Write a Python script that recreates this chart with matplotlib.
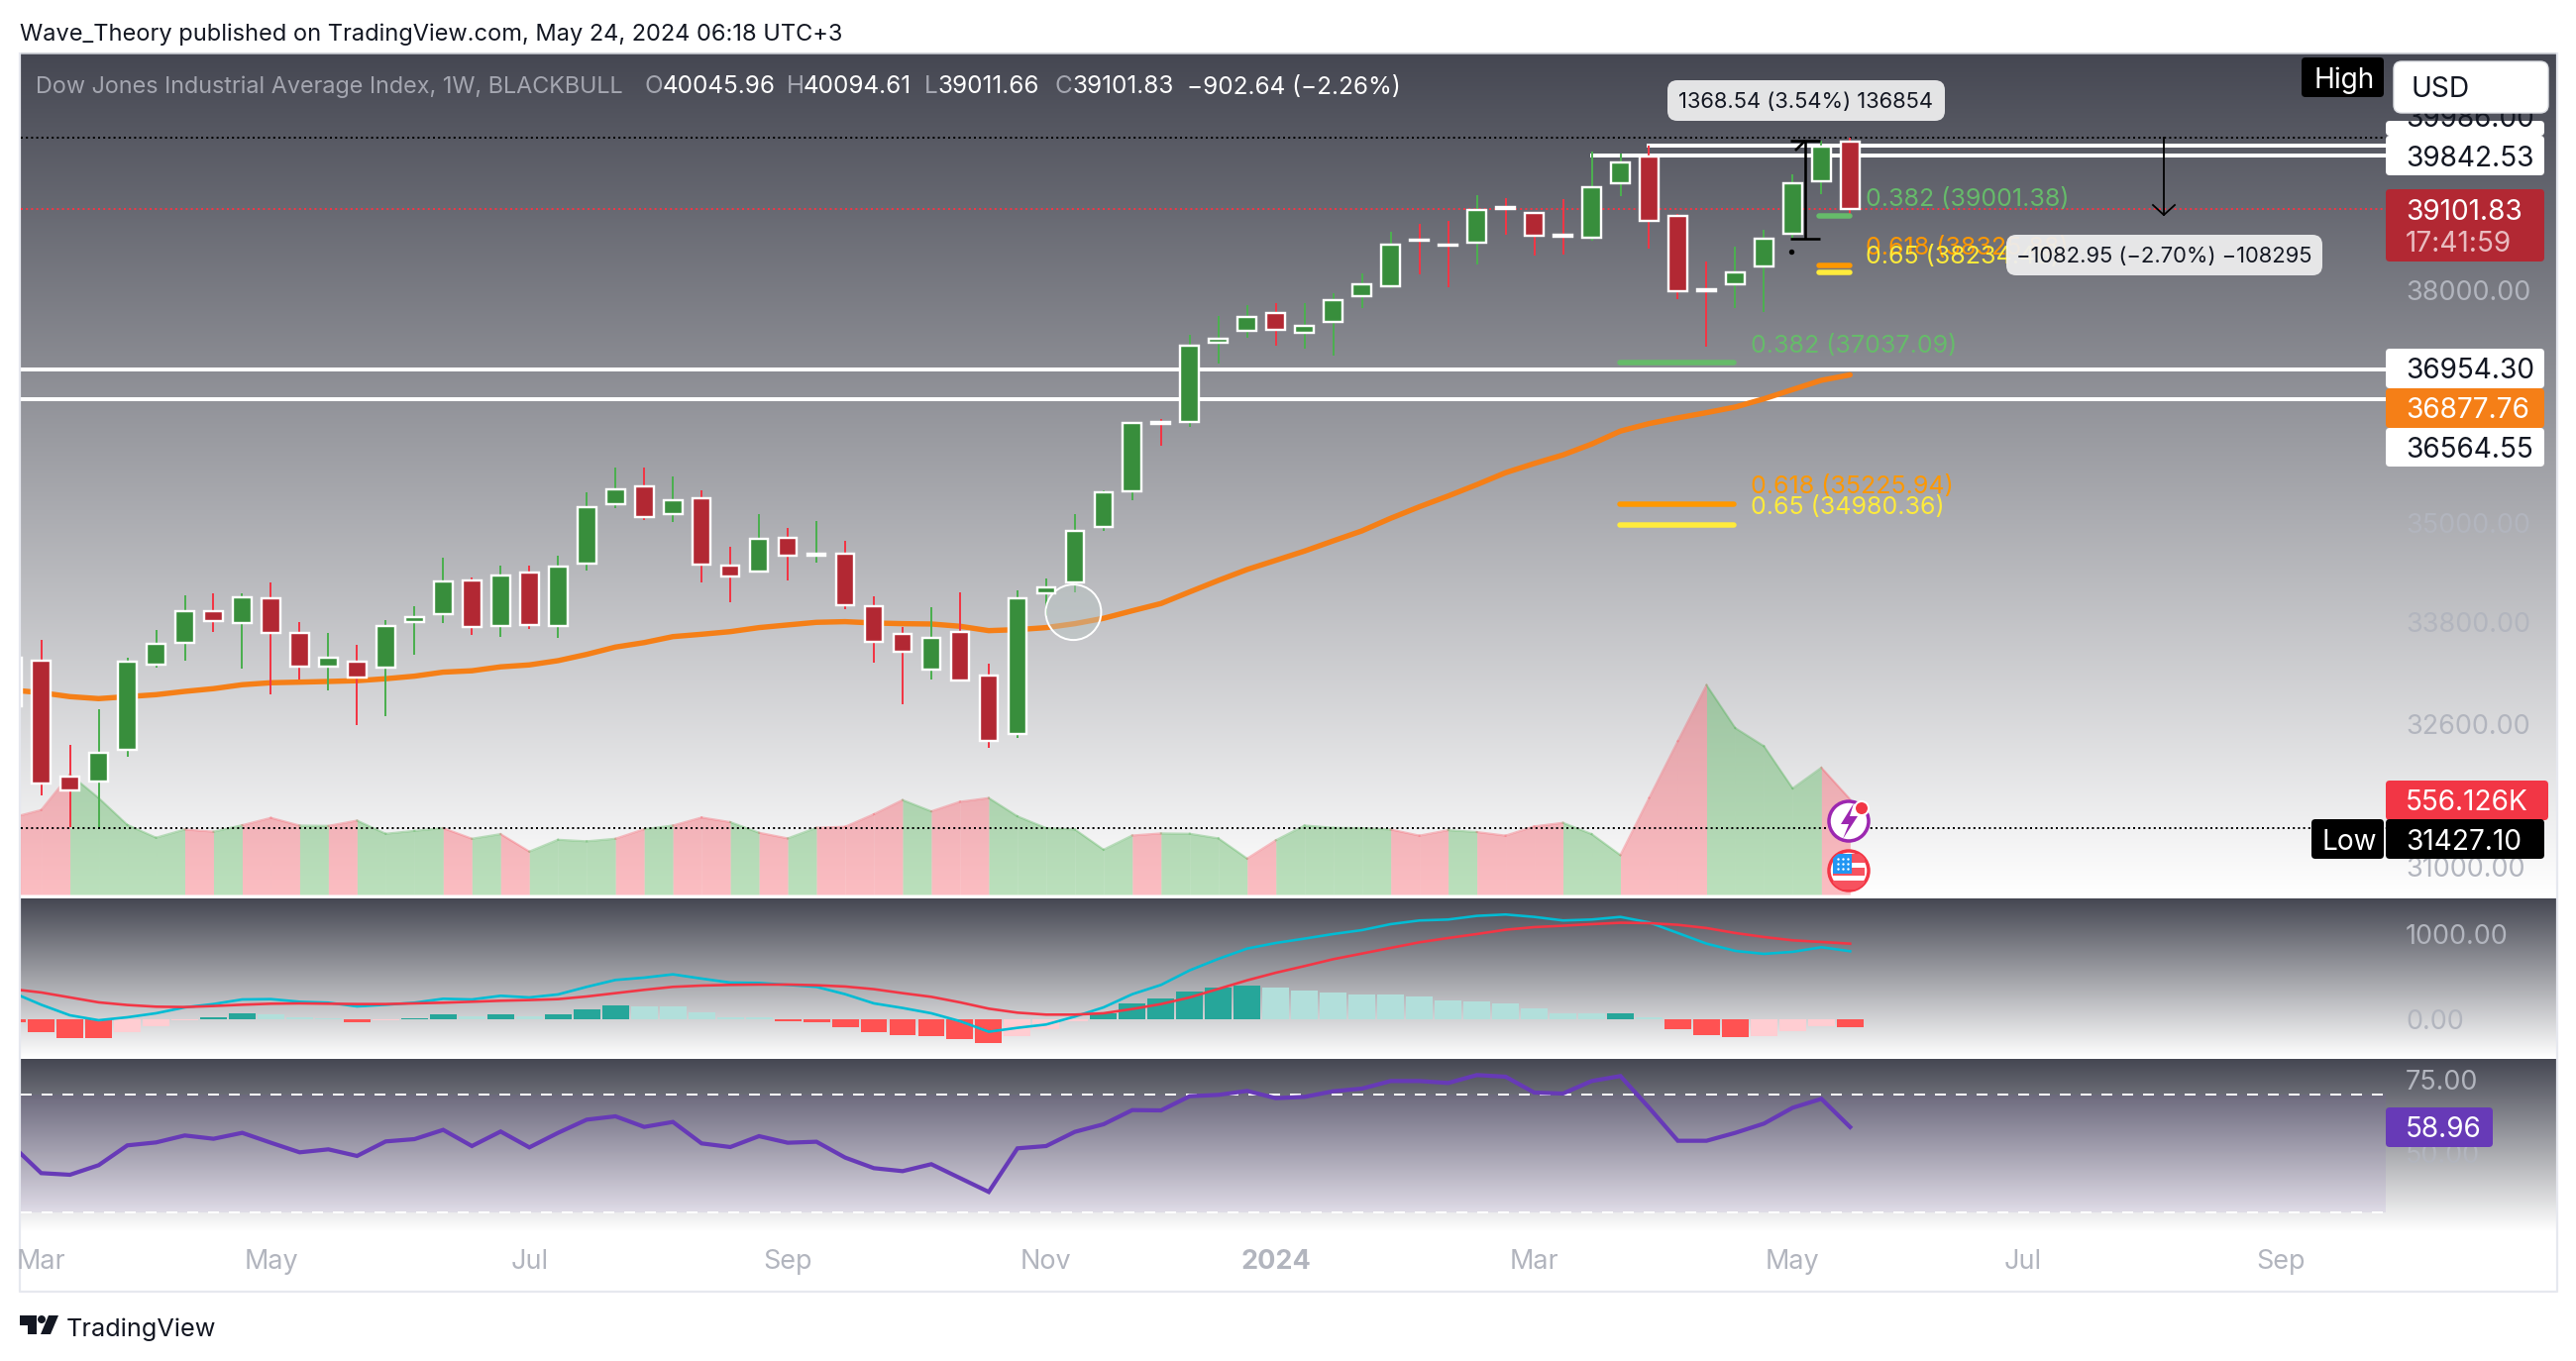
import numpy as np
import matplotlib
matplotlib.use('Agg')
import matplotlib.pyplot as plt
import matplotlib.patches as patches
from matplotlib.ticker import NullLocator

W, H = 2600, 1374
DPI = 100

plt.rcParams['font.family'] = ['Inter', 'DejaVu Sans']

# weekly bars, first one is only half visible at the left edge
bar_open = [32808, 33343, 32006, 31947, 32310, 33293, 33545, 33931, 33785, 34084, 33671, 33270, 33331,
            33255, 33793, 33888, 34300, 33746, 34396, 33746, 34501, 35229, 35459, 35110, 35310, 34481,
            34405, 34819, 34594, 34625, 33990, 33659, 33231, 33679, 33169, 32488, 34140, 34272, 34947,
            35389, 36275, 36267, 37301, 37452, 37689, 37434, 37571, 37912, 38046, 38685, 38617, 38636,
            39125, 39052, 38745, 38704, 39455, 39837, 39003, 38005, 38073, 38318, 38758, 39483, 40045.96]
bar_high = [33480, 33584, 32363, 32773, 33374, 33702, 34116, 34142, 34142, 34272, 33797, 33667, 33525,
            33821, 33986, 34573, 34333, 34477, 34477, 34598, 35380, 35692, 35692, 35580, 35406, 34706,
            35110, 34938, 35024, 34779, 34104, 33738, 33974, 34152, 33305, 34176, 34321, 35110, 35400,
            36270, 36305, 37404, 37649, 37798, 37824, 37824, 37957, 38224, 38790, 38898, 38939, 39294,
            39252, 39065, 39242, 39898, 39879, 39986, 39034, 38381, 38586, 38817, 39584, 40057, 40094.61]
bar_low = [32700, 31793, 31437, 31430, 32228, 33258, 33343, 33682, 33250, 32948, 33119, 32994, 32594,
           32697, 33413, 33789, 33643, 33623, 33718, 33602, 34421, 35187, 35040, 35016, 34276, 34037,
           34393, 34300, 34517, 33951, 33316, 32834, 33122, 33090, 32332, 32442, 33868, 34152, 34905,
           35285, 35966, 36207, 37031, 37360, 37259, 37220, 37130, 37758, 38023, 38207, 38037, 38340,
           38745, 38469, 38474, 38671, 39280, 38563, 37877, 37246, 37762, 37706, 38689, 39307, 39011.66]
bar_close = [33378, 31921, 31846, 32276, 33331, 33541, 33931, 33805, 34096, 33670, 33270, 33378, 33139,
             33753, 33860, 34288, 33738, 34360, 33765, 34469, 35200, 35421, 35073, 35285, 34489, 34341,
             34807, 34598, 34618, 33998, 33561, 33441, 33602, 33104, 32408, 34084, 34216, 34905, 35384,
             36254, 36250, 37263, 37347, 37644, 37465, 37526, 37860, 38081, 38617, 38660, 38595, 39085,
             39105, 38739, 38718, 39408, 39754, 38935, 37979, 37985, 38242, 38689, 39464, 39968, 39101.83]

volume_k = [450, 494, 702, 564, 407, 332, 380, 367, 405, 448, 403, 401, 432, 355, 372, 388, 326, 353, 251,
            320, 311, 326, 382, 403, 450, 423, 361, 328, 390, 396, 469, 552, 486, 542, 564, 457, 388, 380,
            262, 345, 357, 355, 328, 210, 317, 403, 390, 388, 380, 344, 376, 365, 344, 398, 419, 353, 230,
            564, 896, 1224, 973, 867, 620, 741, 556.126]

ma_line = [32994, 32964, 32918, 32895, 32918, 32941, 32979, 33011, 33057, 33080, 33087, 33095, 33104, 33127,
           33157, 33204, 33220, 33266, 33289, 33339, 33413, 33499, 33552, 33623, 33651, 33682, 33730, 33762,
           33793, 33801, 33785, 33777, 33773, 33746, 33694, 33706, 33730, 33777, 33841, 33931, 34018, 34158,
           34297, 34429, 34541, 34654, 34779, 34902, 35057, 35200, 35334, 35476, 35626, 35742, 35850, 35988,
           36153, 36249, 36322, 36389, 36461, 36567, 36687, 36807, 36877.76]

macd_hist = [-31, -147, -217, -217, -147, -78, -12, 23, 70, 58, 23, 19, -35, -12, 12, 58, 43, 58, 43, 58,
             116, 163, 151, 151, 81, 23, 23, -23, -35, -93, -151, -186, -198, -233, -279, -198, -116, -23,
             70, 186, 244, 326, 372, 395, 372, 337, 314, 291, 291, 267, 221, 209, 186, 128, 70, 70, 75, 23,
             -116, -186, -209, -198, -140, -74, -93]
macd_line = [318, 174, 50, -8, 27, 74, 143, 182, 236, 240, 209, 198, 155, 174, 198, 244, 236, 279, 260, 295,
             384, 465, 492, 531, 481, 434, 430, 407, 384, 298, 190, 136, 74, -19, -143, -97, -58, 35, 143,
             298, 407, 578, 713, 833, 899, 950, 1004, 1050, 1120, 1163, 1174, 1217, 1233, 1205, 1163, 1174,
             1205, 1140, 1016, 891, 806, 771, 795, 849, 802]
macd_signal = [357, 318, 260, 202, 171, 151, 147, 159, 174, 186, 190, 186, 182, 182, 190, 198, 209, 221, 229,
               240, 271, 310, 349, 384, 399, 407, 411, 411, 403, 388, 357, 310, 267, 202, 128, 81, 58, 58,
               74, 124, 182, 260, 360, 461, 550, 628, 709, 775, 841, 907, 957, 1004, 1054, 1085, 1101, 1120,
               1136, 1132, 1112, 1074, 1016, 969, 930, 911, 891]

rsi_line = [52.63, 43.33, 42.77, 46.02, 52.75, 53.75, 56.11, 54.99, 57.0, 53.64, 50.39, 51.4, 49.16, 54.09,
            54.87, 58.01, 52.52, 57.45, 52.07, 57.0, 61.48, 62.61, 59.02, 60.7, 53.42, 52.18, 55.88, 53.64,
            53.98, 48.6, 45.01, 44.0, 46.36, 41.65, 36.95, 51.74, 52.52, 57.34, 59.92, 64.73, 64.62, 69.44,
            69.89, 71.23, 68.77, 69.22, 71.12, 72.02, 74.59, 74.59, 73.92, 76.61, 76.05, 70.67, 70.34, 74.59,
            76.27, 65.52, 54.31, 54.31, 57.0, 60.14, 65.52, 68.54, 58.96]

# horizontal levels and fib drawings
support_levels = [36954.30, 36564.55]
resist_levels = [39842.53, 39986]
range_high = 40099
range_low = 31427.10
fib_short = [(39001.38, '0.382 (39001.38)', '#66bb6a'), (38325.88, '0.618 (38325.88)', '#ff9800'),
             (38234.46, '0.65 (38234.46)', '#ffeb3b')]
fib_long = [(37037.09, '0.382 (37037.09)', '#66bb6a'), (35225.94, '0.618 (35225.94)', '#ff9800'),
            (34980.36, '0.65 (34980.36)', '#ffeb3b')]

price_ticks = [38000, 35000, 33800, 32600, 31000]
macd_ticks = [1000, 0]
rsi_ticks = [75, 50]
time_pos = [0, 8, 17, 26, 35, 43, 52, 61, 69, 78]
time_labels = ['Mar', 'May', 'Jul', 'Sep', 'Nov', '2024', 'Mar', 'May', 'Jul', 'Sep']

bar_idx = np.arange(-1, 64)

# pixel layout
PLOT_L, PLOT_R, PANE_R = 20.5, 2408, 2580
BAR_X0, BAR_STEP = 41.6, 28.98
XLIM = ((PLOT_L - BAR_X0) / BAR_STEP, (PLOT_R - BAR_X0) / BAR_STEP)
AXIS_GREY = '#b2b5be'
INK = '#131722'


def fs(px):
    return px * 72 / DPI


def pane_axes(fig, top, bottom, zorder=2):
    ax = fig.add_axes([PLOT_L / W, 1 - bottom / H, (PLOT_R - PLOT_L) / W, (bottom - top) / H])
    ax.set_xlim(*XLIM)
    ax.patch.set_visible(False)
    ax.set_zorder(zorder)
    for s in ax.spines.values():
        s.set_visible(False)
    ax.yaxis.tick_right()
    ax.tick_params(axis='both', length=0, labelsize=fs(27), labelcolor=AXIS_GREY)
    ax.tick_params(axis='y', pad=fs(20))
    ax.set_xticks([])
    return ax


def gradient(ax, top, bottom):
    t = np.linspace(0, 1, 400)[:, None, None]
    c0 = np.array([69, 71, 82]) / 255
    img = c0 + (1 - c0) * t
    ax.imshow(img, extent=(PLOT_L, PANE_R, bottom, top), aspect='auto', zorder=0, interpolation='bilinear')


def label_box(ax, x, y0, y1, text, fc, tc='white', x1=2568, tx=2428, size=28, z=6):
    ax.add_patch(patches.FancyBboxPatch((x, y0), x1 - x, y1 - y0, boxstyle='round,pad=0,rounding_size=4',
                                        fc=fc, ec='none', zorder=z))
    if text:
        ax.text(tx, (y0 + y1) / 2, text, color=tc, fontsize=fs(size), va='center_baseline', ha='left', zorder=z + 1)


def callout(ax, x0, x1, y0, y1, text):
    ax.add_patch(patches.FancyBboxPatch((x0, y0), x1 - x0, y1 - y0, boxstyle='round,pad=0,rounding_size=10',
                                        fc='#eeeeef', ec='none', alpha=0.94, zorder=4))
    ax.text((x0 + x1) / 2, (y0 + y1) / 2, text, color=INK, fontsize=fs(22), ha='center',
            va='center_baseline', zorder=5)


fig = plt.figure(figsize=(W / DPI, H / DPI), dpi=DPI, facecolor='white')

# background layer with the pane gradients and the frame
bg = fig.add_axes([0, 0, 1, 1], zorder=0)
gradient(bg, 54, 903)
gradient(bg, 907, 1068)
gradient(bg, 1069, 1243)
bg.set_xlim(0, W)
bg.set_ylim(H, 0)
bg.axis('off')
bg.plot([PLOT_L, PANE_R], [53.5, 53.5], color='#c9ccd3', lw=1.2)
bg.plot([PLOT_L - 0.5, PLOT_L - 0.5, PANE_R + 1, PANE_R + 1], [54, 1304, 1304, 54], color='#e6e8ef', lw=1.6)

# main pane, log price scale fitted to the axis labels
Y_TOP = 38000 * np.exp((292.7 - 54) / 2860)
Y_BOT = 38000 * np.exp((292.7 - 903) / 2860)

ax_vol = pane_axes(fig, 54, 903, zorder=1)
ax_vol.set_ylim(0, 849 * 5.79)
ax_vol.set_yticks([])
for i in range(1, len(bar_idx)):
    up = bar_close[i] >= bar_open[i]
    col = '#4caf50' if up else '#f7525f'
    ax_vol.fill_between(bar_idx[i - 1:i + 1], 0, volume_k[i - 1:i + 1], color=col, alpha=0.38, lw=0)
    ax_vol.plot(bar_idx[i - 1:i + 1], volume_k[i - 1:i + 1], color=col, alpha=0.35, lw=1.5)

ax = pane_axes(fig, 54, 903)
ax.set_yscale('log')
ax.set_ylim(Y_BOT, Y_TOP)
ax.yaxis.set_minor_locator(NullLocator())
ax.set_yticks(price_ticks, [f'{p:.2f}' for p in price_ticks])

for lvl in support_levels:
    ax.axhline(lvl, color='white', lw=fs(4), zorder=1)
ax.plot([54, XLIM[1]], [resist_levels[0]] * 2, color='white', lw=fs(4), zorder=1)
ax.plot([56, XLIM[1]], [resist_levels[1]] * 2, color='white', lw=fs(4), zorder=1)
ax.axhline(range_high, color='black', lw=fs(2), ls=(0, (1, 1.6)), zorder=2)
ax.axhline(bar_close[-1], color='#f23645', lw=fs(2), ls=(0, (1, 1.6)), zorder=2)
ax.axhline(range_low, color='black', lw=fs(2), ls=(0, (1, 1.6)), zorder=5)

ax.plot(bar_idx, ma_line, color='#f57f17', lw=fs(5.4), zorder=2, solid_capstyle='round')

opens, highs, lows, closes = map(np.array, (bar_open, bar_high, bar_low, bar_close))
is_up = closes >= opens
ax.vlines(bar_idx[is_up], lows[is_up], highs[is_up], color='#4caf50', lw=fs(2), zorder=3)
ax.vlines(bar_idx[~is_up], lows[~is_up], highs[~is_up], color='#f23645', lw=fs(2), zorder=3)
ax.bar(bar_idx, np.abs(closes - opens), bottom=np.minimum(opens, closes), width=0.645,
       color=np.where(is_up, '#388e3c', '#b22833').tolist(), edgecolor='white', linewidth=fs(2.4), zorder=3.5)

for price, txt, col in fib_short:
    ax.plot([61.93, 63.0], [price, price], color=col, lw=fs(5.5), solid_capstyle='round', zorder=4)
for price, txt, col in fib_long:
    ax.plot([54.97, 58.96], [price, price], color=col, lw=fs(5.5), solid_capstyle='round', zorder=4)

ax.add_patch(patches.Ellipse((35.95, 33915), 1.93, 33915 * (np.exp(28 / 2860) - np.exp(-28 / 2860)),
                             fc=(0.72, 0.77, 0.76, 0.45), ec='white', lw=fs(2), zorder=3))

# MACD pane
ax_macd = pane_axes(fig, 907, 1068)
ax_macd.set_ylim(-450, 1422)
ax_macd.set_yticks(macd_ticks, [f'{v:.2f}' for v in macd_ticks])
hist_cols = []
for i, v in enumerate(macd_hist):
    rising = i > 0 and v > macd_hist[i - 1]
    if v >= 0:
        hist_cols.append('#26a69a' if rising else '#b2dfdb')
    else:
        hist_cols.append('#ffcdd2' if rising else '#ff5252')
ax_macd.bar(bar_idx, macd_hist, width=0.93, color=hist_cols, zorder=2)
ax_macd.plot(bar_idx, macd_line, color='#00bcd4', lw=fs(2.6), zorder=3)
ax_macd.plot(bar_idx, macd_signal, color='#f23645', lw=fs(2.6), zorder=3)

# RSI pane, the time axis labels hang below it
ax_rsi = pane_axes(fig, 1069, 1243)
ax_rsi.set_ylim(23.6, 82.1)
ax_rsi.set_yticks(rsi_ticks, [f'{v:.2f}' for v in rsi_ticks])
ax_rsi.axhspan(30, 70, color='#7e57c2', alpha=0.1, lw=0, zorder=1)
ax_rsi.axhline(70, color='white', lw=fs(2), ls=(0, (5.5, 5)), zorder=2)
ax_rsi.axhline(30, color='white', lw=fs(2), ls=(0, (5.5, 5)), zorder=2)
ax_rsi.plot(bar_idx, rsi_line, color='#673ab7', lw=fs(4.2), zorder=3, solid_joinstyle='miter')
ax_rsi.set_xticks(time_pos, time_labels)
ax_rsi.tick_params(axis='x', pad=fs(18), labelsize=fs(27))
for lab in ax_rsi.get_xticklabels():
    if lab.get_text() == '2024':
        lab.set_fontweight('bold')

# top layer for texts, tags and drawings in pixels
top = fig.add_axes([0, 0, 1, 1], zorder=5)
top.set_xlim(0, W)
top.set_ylim(H, 0)
top.axis('off')

top.text(20, 32, 'Wave_Theory published on TradingView.com, May 24, 2024 06:18 UTC+3', color=INK,
         fontsize=fs(23.6), va='center_baseline')

LEG = '#a4a6b0'
leg_y = 85.5
top.text(36, leg_y, 'Dow Jones Industrial Average Index, 1W, BLACKBULL', color=LEG, fontsize=fs(23.4),
         va='center_baseline')
for x, t, c in [(650, 'O', LEG), (669, '40045.96', 'white'), (794, 'H', LEG), (811, '40094.61', 'white'),
                (933, 'L', LEG), (947, '39011.66', 'white'), (1064, 'C', LEG), (1082, '39101.83', 'white'),
                (1198, '\u2212902.64 (\u22122.26%)', 'white')]:
    top.text(x, leg_y, t, color=c, fontsize=fs(24.3), va='center_baseline')

# fib labels
for (_, txt, col), y in zip(fib_short, [199, 248, 257]):
    top.text(1883, y, txt, color=col, fontsize=fs(25), va='center_baseline', zorder=2)
for (_, txt, col), y in zip(fib_long, [347, 489, 510]):
    top.text(1767, y, txt, color=col, fontsize=fs(25), va='center_baseline', zorder=2)

callout(top, 1683, 1963, 81, 122, '1368.54 (3.54%) 136854')
callout(top, 2025, 2344, 237, 278, '\u22121082.95 (\u22122.70%) \u2212108295')

# measure tools
for xs, ys in [([1822, 1822], [142, 241]), ([1807, 1837], [241, 241]), ([1807, 1837], [142, 142]),
               ([1812, 1822], [152, 142])]:
    top.plot(xs, ys, color='black', lw=fs(2.6), zorder=3, solid_capstyle='butt')
top.plot([1808], [254], 'o', color='black', ms=fs(4), zorder=3)
top.plot([2184, 2184], [139, 217], color='black', lw=fs(1.8), zorder=3)
top.plot([2173, 2184, 2195], [207, 217, 207], color='black', lw=fs(1.8), zorder=3)

# price tags, the topmost one is cut off by the currency button
label_box(top, 2408, 122, 137, '', 'white')
high_tag = top.text(2428, 117, '39986.00', color=INK, fontsize=fs(28), va='center_baseline', zorder=7)
high_tag.set_clip_path(patches.Rectangle((2408, 122), 160, 15, transform=top.transData))
label_box(top, 2408, 137, 177, '39842.53', 'white', INK)
label_box(top, 2408, 191, 264, '', '#b22833')
top.text(2428, 211, '39101.83', color='white', fontsize=fs(28), va='center_baseline', zorder=7)
top.text(2428, 244, '17:41:59', color='#e9bcc0', fontsize=fs(28), va='center_baseline', zorder=7)
label_box(top, 2408, 352, 392, '36954.30', 'white', INK)
label_box(top, 2408, 392, 432, '36877.76', '#f57f17')
label_box(top, 2408, 432, 471, '36564.55', 'white', INK)
label_box(top, 2408, 788, 828, '556.126K', '#f23645', x1=2572)
label_box(top, 2408, 827, 867, '31427.10', 'black')
label_box(top, 2333, 827, 867, 'Low', 'black', x1=2406, tx=2344)
label_box(top, 2323, 58, 98, 'High', 'black', x1=2406, tx=2335)
label_box(top, 2408, 1118, 1158, '58.96', '#673ab7', x1=2516, tx=2428)
top.add_patch(patches.FancyBboxPatch((2416, 62), 156, 52, boxstyle='round,pad=0,rounding_size=8',
                                     fc='white', ec='#dfe1e6', lw=1, zorder=8))
top.text(2434, 87, 'USD', color=INK, fontsize=fs(28), va='center_baseline', zorder=9)

# event icons on the last bar
ring = patches.Circle((1866, 829), 20, fc='white', ec='#9c27b0', lw=fs(3.5), zorder=6)
top.add_patch(ring)
top.add_patch(patches.Polygon([(1871, 811), (1858, 832), (1866, 832), (1860, 847), (1875, 824), (1867, 824)],
                              fc='#9c27b0', ec='none', zorder=7))
top.add_patch(patches.Circle((1879, 816), 7, fc='#f23645', ec='white', lw=fs(2), zorder=8))

flag = patches.Circle((1866, 879), 20, fc='white', ec='#f23645', lw=fs(3.5), zorder=6)
top.add_patch(flag)
for rect in [patches.Rectangle((1850, 862), 32, 9, fc='#f7525f', ec='none', zorder=7),
             patches.Rectangle((1850, 876), 32, 8, fc='#f7525f', ec='none', zorder=7),
             patches.Rectangle((1850, 889), 32, 9, fc='#f7525f', ec='none', zorder=7),
             patches.Rectangle((1850, 862), 19, 20, fc='#2196f3', ec='none', zorder=8)]:
    top.add_patch(rect)
    rect.set_clip_path(flag)
for sx in (1855, 1860, 1865):
    for sy in (867, 872, 877):
        top.plot([sx], [sy], 'o', color='white', ms=fs(2.4), zorder=9, mew=0)

# TradingView logo
top.add_patch(patches.Polygon([(20, 1328), (37, 1328), (37, 1347), (28, 1347), (28, 1338), (20, 1338)],
                              fc=INK, ec='none'))
top.add_patch(patches.Circle((42, 1332), 4, fc=INK, ec='none'))
top.add_patch(patches.Polygon([(49, 1328), (59, 1328), (51, 1347), (41, 1347)], fc=INK, ec='none'))
top.text(67, 1340, 'TradingView', color=INK, fontsize=fs(25.3), va='center_baseline')

fig.savefig('out.png', dpi=DPI, facecolor='white')
